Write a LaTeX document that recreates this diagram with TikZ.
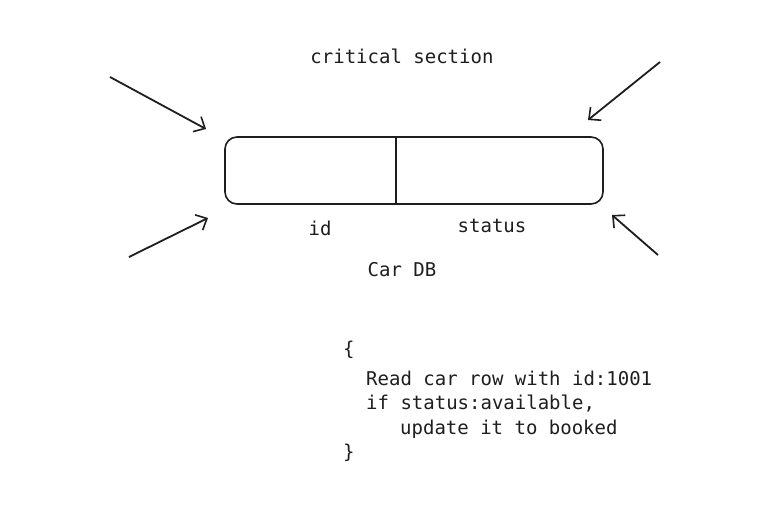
\documentclass[tikz,border=0pt]{standalone}
\usepackage{fontspec}
\setmonofont{DejaVu Sans Mono}
\usetikzlibrary{arrows.meta,positioning}
\definecolor{ink}{HTML}{1E1E1E}
\tikzset{
	txt/.style={font=\ttfamily\fontsize{19}{24}\selectfont, text=ink, inner sep=0pt},
	codeline/.style={txt, anchor=west},
	push/.style={draw=ink, line width=1.8pt, -{Straight Barb[length=9pt, width=17pt, line width=1.6pt]}}
}
\begin{document}
\begin{tikzpicture}[x=1pt, y=-1pt]
		\useasboundingbox[fill=white] (0, 0) rectangle (769, 526);
		% table
		\node[draw=ink, line width=1.6pt, rounded corners=12pt, minimum width=378pt, minimum height=67pt] (db) at (414, 170.5) {};
		\coordinate (split) at (396, 0);
		\draw[ink, line width=1.6pt] (split |- db.north) -- (split |- db.south);
		\node[txt] (title) at (402, 56) {critical section};
		\node[txt] (idcol) at (320, 228) {id};
		\node[txt] (statuscol) at (492, 226) {status};
		\node[txt] (dbname) at (402, 270) {Car DB};
		% requests
		\coordinate (tl) at (110, 77);
		\coordinate (tr) at (660, 62);
		\coordinate (bl) at (129, 257);
		\coordinate (br) at (658, 255);
		\coordinate (tlend) at (206, 129);
		\coordinate (trend) at (588, 120);
		\coordinate (blend) at (208, 218);
		\coordinate (brend) at (612, 215);
		\draw[push] (tl) -- (tlend);
		\draw[push] (tr) -- (trend);
		\draw[push] (bl) -- (blend);
		\draw[push] (br) -- (brend);
		% transaction
		\node[codeline] (open) at (343, 350) {\{};
		\node[codeline] (readline) at (366, 378) {Read car row with id:1001};
		\node[codeline] (ifline) at (366, 404) {if status:available,};
		\node[codeline] (updline) at (400, 429) {update it to booked};
		\node[codeline] (close) at (343, 453) {\}};
	\end{tikzpicture}
\end{document}
